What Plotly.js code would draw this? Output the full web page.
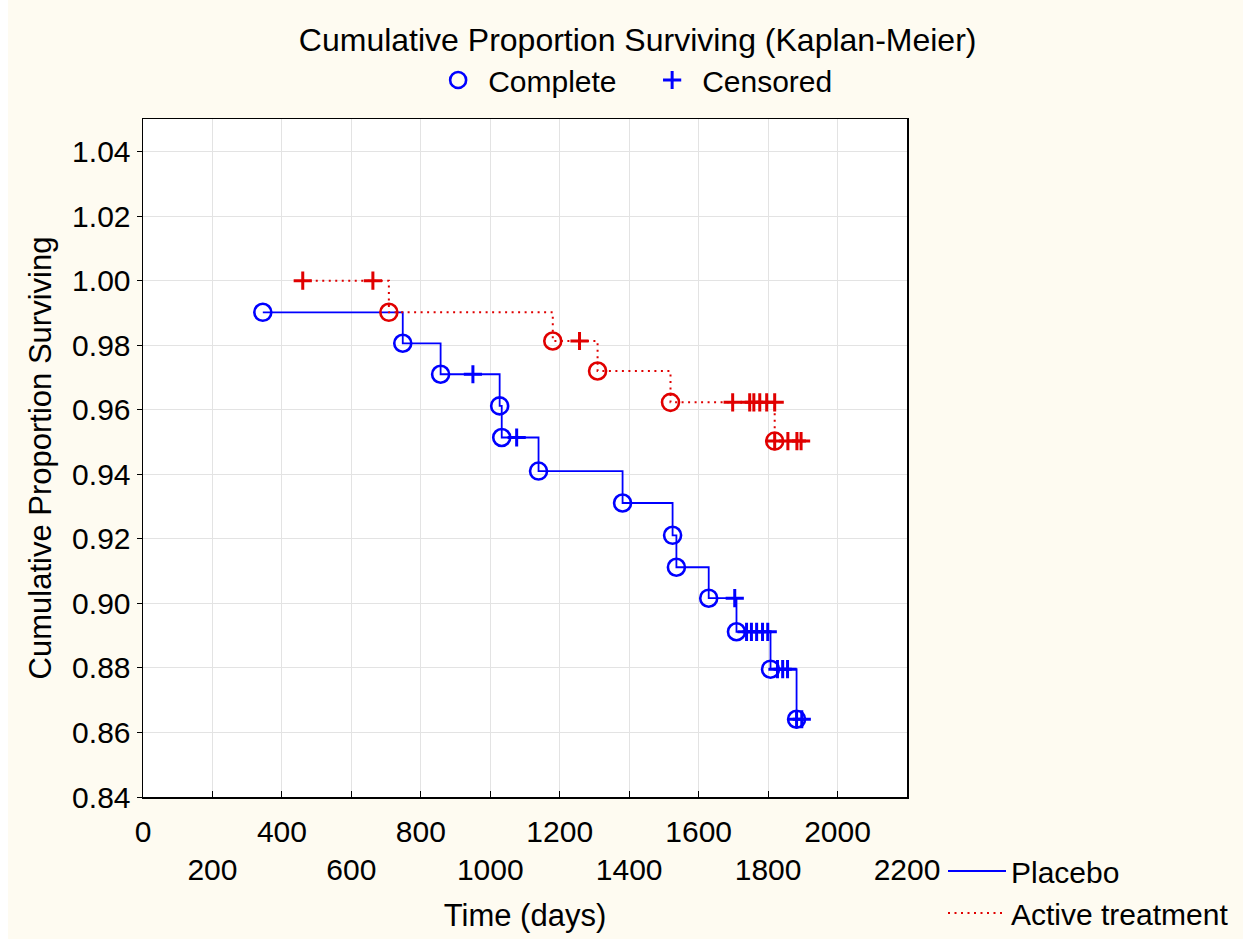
<!DOCTYPE html>
<html>
<head>
<meta charset="utf-8">
<script src="https://cdn.plot.ly/plotly-3.0.1.min.js"></script>
<style>html,body{margin:0;padding:0;background:#fefbf1;}#chart{width:1243px;height:939px;}</style>
</head>
<body>
<div id="chart"></div>
<script>
// ---- Data ----
const placeboEventDays = [345, 748, 857, 1027, 1033, 1139, 1381, 1525, 1536, 1629, 1709, 1807, 1882];
const placeboEventSurv = [0.9902, 0.9806, 0.9710, 0.9612, 0.9514, 0.9410, 0.9311, 0.9211, 0.9112, 0.9016, 0.8912, 0.8796, 0.8641];
const placeboCensDays = [950, 1076, 1704, 1738, 1752, 1767, 1784, 1799, 1827, 1842, 1856, 1882, 1897];
const placeboCensSurv = [0.9710, 0.9514, 0.9016, 0.8912, 0.8912, 0.8912, 0.8912, 0.8912, 0.8796, 0.8796, 0.8796, 0.8641, 0.8641];

const activeEventDays = [708, 1180, 1309, 1519, 1819];
const activeEventSurv = [0.9902, 0.9813, 0.9720, 0.9623, 0.9503];
const activeCensDays = [460, 662, 1257, 1698, 1747, 1759, 1776, 1796, 1819, 1819, 1857, 1883, 1895];
const activeCensSurv = [1.0, 1.0, 0.9813, 0.9623, 0.9623, 0.9623, 0.9623, 0.9623, 0.9623, 0.9503, 0.9503, 0.9503, 0.9503];

const xTickValsUpper = [0, 400, 800, 1200, 1600, 2000];
const xTickValsLower = [200, 600, 1000, 1400, 1800, 2200];
const yTickVals = [0.84, 0.86, 0.88, 0.90, 0.92, 0.94, 0.96, 0.98, 1.00, 1.02, 1.04];

// build step path from events + censored points
function stepPath(ed, es, cd, cs) {
  const pts = [];
  ed.forEach((d, i) => pts.push([d, es[i]]));
  cd.forEach((d, i) => pts.push([d, cs[i]]));
  pts.sort((a, b) => a[0] - b[0] || b[1] - a[1]);
  return {x: pts.map(p => p[0]), y: pts.map(p => p[1])};
}
const pPath = stepPath(placeboEventDays, placeboEventSurv, placeboCensDays, placeboCensSurv);
const aPath = stepPath(activeEventDays, activeEventSurv, activeCensDays, activeCensSurv);

const BLUE = '#0000ff', RED = '#e00000';
const FONT = 'Liberation Sans, Arial, sans-serif';

const allXTicks = xTickValsUpper.concat(xTickValsLower).sort((a, b) => a - b);
const upperText = allXTicks.map(v => xTickValsUpper.includes(v) ? String(v) : '');

const traces = [
  {x: pPath.x, y: pPath.y, mode: 'lines', line: {shape: 'hv', color: BLUE, width: 1.8},
   name: 'Placebo', legend: 'legend2', hoverinfo: 'skip'},
  {x: aPath.x, y: aPath.y, mode: 'lines', line: {shape: 'hv', color: RED, width: 2, dash: '2px,4.5px'},
   name: 'Active treatment', legend: 'legend2', hoverinfo: 'skip'},
  {x: placeboEventDays, y: placeboEventSurv, mode: 'markers', name: 'Complete',
   marker: {symbol: 'circle-open', size: 17, color: BLUE, line: {width: 2.6, color: BLUE}}},
  {x: placeboCensDays, y: placeboCensSurv, mode: 'markers', name: 'Censored',
   marker: {symbol: 'cross-thin-open', size: 13, color: BLUE, line: {width: 3, color: BLUE}}},
  {x: activeEventDays, y: activeEventSurv, mode: 'markers', name: 'Complete', showlegend: false,
   marker: {symbol: 'circle-open', size: 17, color: RED, line: {width: 2.6, color: RED}}},
  {x: activeCensDays, y: activeCensSurv, mode: 'markers', name: 'Censored', showlegend: false,
   marker: {symbol: 'cross-thin-open', size: 13, color: RED, line: {width: 3, color: RED}}},
  // carrier for the second (lower) row of x tick labels
  {x: placeboEventDays, y: placeboEventSurv, xaxis: 'x2', mode: 'markers', showlegend: false,
   hoverinfo: 'skip', marker: {opacity: 0, size: 1}}
];

const layout = {
  width: 1243, height: 939,
  paper_bgcolor: '#fefbf1', plot_bgcolor: '#ffffff',
  font: {family: FONT, size: 31, color: '#000'},
  margin: {l: 143, r: 336, t: 119, b: 142},
  title: {text: 'Cumulative Proportion Surviving (Kaplan-Meier)', font: {size: 32, family: FONT},
          x: 0.513, xref: 'container', xanchor: 'center', y: 1 - 40/939, yref: 'container', yanchor: 'middle'},
  xaxis: {
    range: [0, 2200], tickvals: allXTicks, ticktext: upperText,
    ticks: 'inside', ticklen: 6, tickcolor: '#000', tickwidth: 1,
    showgrid: true, gridcolor: '#e3e3e3', gridwidth: 1,
    showline: true, linecolor: '#000', linewidth: 1.5, mirror: true,
    zeroline: false, ticklabelstandoff: 7,
    title: {text: 'Time (days)', font: {size: 31}, standoff: 58},
    tickfont: {size: 30}
  },
  xaxis2: {
    range: [0, 2200], overlaying: 'x', anchor: 'y', side: 'bottom',
    tickvals: xTickValsLower, ticktext: xTickValsLower.map(String),
    ticks: '', showgrid: false, showline: false, zeroline: false,
    ticklabelstandoff: 52, tickfont: {size: 30}
  },
  yaxis: {
    range: [0.84, 1.0501], tickvals: yTickVals, tickformat: '.2f',
    ticks: 'outside', ticklen: 5, tickcolor: '#000', tickwidth: 1,
    showgrid: true, gridcolor: '#e3e3e3', gridwidth: 1,
    showline: true, linecolor: '#000', linewidth: 1.5, mirror: true,
    zeroline: false, ticklabelstandoff: 0,
    title: {text: 'Cumulative Proportion Surviving', font: {size: 31}, standoff: 11},
    tickfont: {size: 30}
  },
  legend: {orientation: 'h', xref: 'container', yref: 'container', x: 0.5166, xanchor: 'center',
           y: 1 - 80/939, yanchor: 'middle', bgcolor: 'rgba(0,0,0,0)', font: {size: 30},
           itemwidth: 50, entrywidth: 149,
           itemclick: false, itemdoubleclick: false},
  legend2: {orientation: 'v', xref: 'container', yref: 'container', x: 943/1243, xanchor: 'left',
            y: 1 - 845/939, yanchor: 'top', bgcolor: 'rgba(0,0,0,0)', font: {size: 30},
            itemwidth: 58, tracegroupgap: 0, itemclick: false, itemdoubleclick: false},
  shapes: [{type: 'rect', xref: 'paper', yref: 'paper', x0: -143/764, x1: -135/764,
            y0: -142/678, y1: 1 + 119/678, fillcolor: '#ffffff', line: {width: 0}, layer: 'below'}],
  showlegend: true
};

Plotly.newPlot('chart', traces, layout, {displayModeBar: false, staticPlot: true});
</script>
</body>
</html>
